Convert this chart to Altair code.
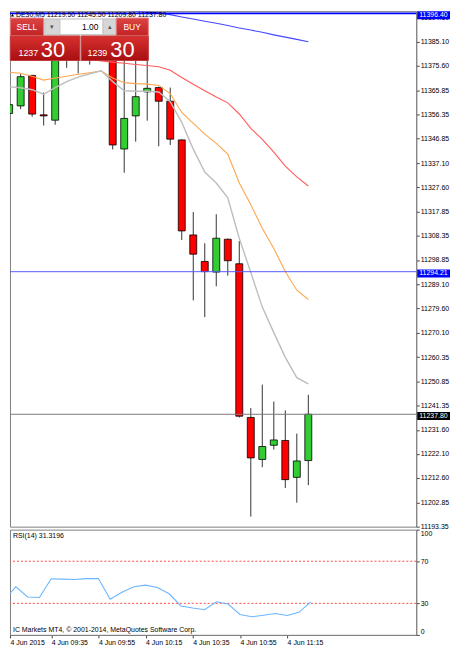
import altair as alt
import pandas as pd

# ---------------- data ----------------
bar_index = list(range(27))
opens = [11356.8, 11359.8, 11371.85, 11356.25, 11354.15, 11382.75, 11380.0, 11378.0, 11381.5,
         11383.0, 11342.75, 11355.85, 11365.35, 11367.05, 11361.65, 11346.35, 11308.75, 11298.25,
         11294.05, 11307.05, 11297.35, 11236.55, 11219.95, 11225.55, 11227.45, 11212.85, 11219.50]
highs = [11361.1, 11372.4, 11372.1, 11365.05, 11384.7, 11386.0, 11385.0, 11388.0, 11390.0,
         11386.0, 11377.65, 11377.55, 11378.0, 11367.4, 11367.05, 11346.55, 11317.85, 11305.45,
         11316.95, 11307.3, 11306.35, 11240.25, 11249.55, 11242.85, 11239.35, 11230.15, 11245.50]
lows = [11350.5, 11358.5, 11355.5, 11352.05, 11352.35, 11374.85, 11372.65, 11376.15, 11379.0,
        11342.55, 11333.35, 11345.65, 11353.95, 11343.85, 11344.35, 11306.75, 11282.85, 11276.25,
        11288.45, 11292.65, 11236.55, 11197.35, 11216.85, 11223.85, 11208.65, 11202.85, 11209.80]
closes = [11360.3, 11371.35, 11356.55, 11355.85, 11382.75, 11380.0, 11378.0, 11381.5, 11383.0,
          11344.35, 11354.85, 11363.45, 11366.75, 11361.65, 11346.65, 11310.35, 11301.15, 11294.25,
          11307.45, 11298.55, 11237.05, 11220.55, 11225.05, 11227.65, 11211.95, 11219.35, 11237.80]

ma_blue = [11401.2, 11400.8, 11400.4, 11400.1, 11399.8, 11399.4, 11399.2, 11398.8, 11398.4,
           11398.0, 11397.6, 11397.3, 11396.9, 11396.6, 11395.9, 11395.0, 11394.2, 11393.3,
           11392.5, 11391.6, 11390.6, 11389.8, 11388.9, 11387.9, 11387.0, 11386.1, 11385.2]
ma_red = [11381.6, 11381.1, 11380.6, 11380.1, 11379.6, 11379.1, 11378.7, 11378.2, 11377.6,
          11377.1, 11376.7, 11376.2, 11375.8, 11375.3, 11373.9, 11371.0, 11368.4, 11365.8,
          11363.3, 11361.0, 11356.6, 11350.9, 11346.6, 11341.5, 11336.0, 11331.7, 11328.1]
ma_orange = [11373.1, 11372.7, 11371.5, 11370.0, 11370.8, 11371.5, 11372.3, 11372.9, 11373.6,
             11370.8, 11369.0, 11368.6, 11368.4, 11367.9, 11364.7, 11357.2, 11352.9, 11348.6,
             11345.0, 11340.7, 11329.3, 11320.7, 11311.4, 11303.4, 11294.3, 11286.9, 11283.2]
ma_gray = [11367.4, 11367.0, 11366.2, 11364.4, 11367.0, 11369.4, 11371.2, 11372.5, 11373.7,
           11369.4, 11365.8, 11365.6, 11365.6, 11365.3, 11361.5, 11353.3, 11342.7, 11333.6,
           11329.3, 11323.4, 11307.4, 11293.9, 11280.2, 11270.1, 11260.3, 11252.3, 11249.8]

rsi14 = [33.0, 45.7, 36.0, 35.5, 53.3, 53.0, 52.7, 53.5, 53.6, 33.9, 40.5, 45.7, 47.3, 45.1,
         39.1, 27.5, 25.5, 23.9, 31.5, 29.4, 19.4, 17.3, 18.7, 20.3, 18.5, 21.5, 31.32]

price_ticks = [11394.60, 11385.10, 11375.60, 11365.85, 11356.35, 11346.85, 11337.10, 11327.60,
               11317.85, 11308.35, 11298.85, 11289.10, 11279.60, 11270.10, 11260.35, 11250.85,
               11241.35, 11231.60, 11222.10, 11212.60, 11202.85, 11193.35]
level_values = [11396.40, 11294.21, 11237.80]

rsi_levels = [30, 70]
rsi_ticks = [0, 30, 70, 100]
time_tick_index = [0, 4, 8, 12, 16, 20, 24]
time_tick_labels = ["4 Jun 2015", "4 Jun 09:35", "4 Jun 09:55", "4 Jun 10:15",
                    "4 Jun 10:35", "4 Jun 10:55", "4 Jun 11:15"]

header_text = "DE30,M5  11219.50 11245.50 11209.80 11237.80"
rsi_title = "RSI(14) 31.3196"
copyright_text = "IC Markets MT4, \u00a9 2001-2014, MetaQuotes Software Corp."
sell_small, sell_big = "1237", "30"
buy_small, buy_big = "1239", "30"
lot_text = "1.00"

# ---------------- styles / layout ----------------
FONT = "Liberation Sans"
W = 409
H_MAIN = 519
H_RSI = 106
X_DOMAIN = [0.505, 34.947]
Y_DOMAIN = [11193.35, 11397.28]

MA_COLORS = {"blue": "#4646ff", "red": "#ff5a5a", "orange": "#ffa64d", "gray": "#bdbdbd"}
MA_WIDTHS = {"blue": 1.1, "red": 1.1, "orange": 1.1, "gray": 1.4}
LEVEL_LINE_COLORS = ["#0000ff", "#5a5aff", "#7a7a7a"]
LEVEL_LINE_WIDTHS = [1.6, 1, 1]
LEVEL_BOX_COLORS = ["#0000ff", "#0000ff", "#000000"]

candles = pd.DataFrame({"i": bar_index, "open": opens, "high": highs, "low": lows, "close": closes})
ma = pd.DataFrame({"i": bar_index, "blue": ma_blue, "red": ma_red, "orange": ma_orange, "gray": ma_gray})
levels = pd.DataFrame({"level": level_values})

xscale = alt.Scale(domain=X_DOMAIN, nice=False, zero=False)
yscale = alt.Scale(domain=Y_DOMAIN, nice=False, zero=False)
yaxis = alt.Axis(orient="right", values=price_ticks, format=".2f", title=None, grid=False,
                 labelFontSize=7, labelFont=FONT, labelColor="#000000", tickSize=3,
                 labelPadding=1, tickColor="#444444", domainColor="#808080", labelOverlap=False)


def X(field):
    return alt.X(field, scale=xscale, axis=None)


def Ym(field):
    return alt.Y(field, scale=yscale, axis=yaxis)


one = pd.DataFrame({"k": [0]})


def px_rect(x0, x1, y0, y1, fill, stroke=None):
    kw = dict(fill=fill)
    if stroke is not None:
        kw.update(stroke=stroke, strokeWidth=1)
    return alt.Chart(one).mark_rect(**kw).encode(
        x=alt.value(x0), x2=alt.value(x1), y=alt.value(y0), y2=alt.value(y1))


def px_text(x, y, txt, size, color, align="left", baseline="middle", weight="normal"):
    return alt.Chart(one).mark_text(text=txt, fontSize=size, color=color, align=align,
                                    baseline=baseline, font=FONT, fontWeight=weight).encode(
        x=alt.value(x), y=alt.value(y))


wicks = alt.Chart(candles).mark_rule(color="#333333", strokeWidth=1, clip=True).encode(
    x=X("i:Q"), y=Ym("low:Q"), y2="high:Q")
bodies = alt.Chart(candles).mark_bar(size=7, stroke="#000000", strokeWidth=0.8, clip=True).encode(
    x=X("i:Q"), y=Ym("open:Q"), y2="close:Q",
    color=alt.condition("datum.close >= datum.open", alt.value("#32cd32"), alt.value("#ff0000")))

ma_layers = [
    alt.Chart(ma).mark_line(color=MA_COLORS[name], strokeWidth=MA_WIDTHS[name], clip=True).encode(
        x=X("i:Q"), y=Ym(f"{name}:Q"))
    for name in ["blue", "red", "orange", "gray"]
]

level_rules = [
    alt.Chart(levels.iloc[[k]]).mark_rule(strokeWidth=LEVEL_LINE_WIDTHS[k],
                                          color=LEVEL_LINE_COLORS[k]).encode(y=Ym("level:Q"))
    for k in range(len(level_values))
]
level_boxes = [
    alt.Chart(levels.iloc[[k]]).mark_tick(size=33, thickness=8, opacity=1, yOffset=1.8,
                                          color=LEVEL_BOX_COLORS[k]).encode(
        x=alt.value(W + 17.5), y=Ym("level:Q"))
    for k in range(len(level_values))
]
level_text = alt.Chart(levels).mark_text(align="left", baseline="middle", fontSize=7, font=FONT,
                                         color="#ffffff", yOffset=1.8).encode(
    x=alt.value(W + 3), y=Ym("level:Q"), text=alt.Text("level:Q", format=".2f"))

grad = alt.LinearGradient(gradient="linear",
                          stops=[alt.GradientStop(color="#d8302f", offset=0),
                                 alt.GradientStop(color="#a80f12", offset=1)],
                          x1=0, x2=0, y1=0, y2=1)
grad_btn = alt.LinearGradient(gradient="linear",
                              stops=[alt.GradientStop(color="#dc4444", offset=0),
                                     alt.GradientStop(color="#c22424", offset=1)],
                              x1=0, x2=0, y1=0, y2=1)

panel = [
    px_rect(0.3, 139.3, 7, 49.7, "#ececec"),
    px_rect(0.3, 33.7, 7, 24.5, grad_btn, "#e88080"),
    px_rect(35.0, 50.3, 8, 23.5, "#d6d6d6", "#c4c4c4"),
    px_rect(50.3, 93.7, 8, 23.5, "#ffffff", "#c8c8c8"),
    px_rect(93.7, 107.0, 8, 23.5, "#d6d6d6", "#c4c4c4"),
    px_rect(107.0, 139.3, 7, 24.5, grad_btn, "#e88080"),
    px_rect(0.3, 70.3, 25, 49.7, grad, "#c23a3a"),
    px_rect(71.7, 139.3, 25, 49.7, grad, "#c23a3a"),
    px_text(17, 16, "SELL", 8.5, "#ffffff", align="center"),
    px_text(123, 16, "BUY", 8.5, "#ffffff", align="center"),
    px_text(42.7, 16, "\u25be", 7, "#555555", align="center"),
    px_text(100.3, 16, "\u25b4", 7, "#555555", align="center"),
    px_text(89, 16, lot_text, 8.5, "#000000", align="right"),
    px_text(8.5, 45, sell_small, 9, "#ffffff", baseline="alphabetic"),
    px_text(31, 46, sell_big, 22, "#ffffff", baseline="alphabetic"),
    px_text(78, 45, buy_small, 9, "#ffffff", baseline="alphabetic"),
    px_text(101, 46, buy_big, 22, "#ffffff", baseline="alphabetic"),
]

header = [
    alt.Chart(one).mark_point(shape="triangle-up", filled=True, size=10, color="#000000", opacity=1).encode(
        x=alt.value(2.5), y=alt.value(4)),
    px_text(6, 4, header_text, 7, "#000000"),
]

main = alt.layer(wicks, bodies, *ma_layers, *level_rules, *header, *panel, *level_boxes,
                 level_text).properties(width=W, height=H_MAIN)

# ---------------- RSI panel ----------------
rsi_df = pd.DataFrame({"i": bar_index, "rsi": rsi14})
rsi_lv = pd.DataFrame({"lvl": rsi_levels})

x_vals = [max(t, X_DOMAIN[0]) for t in time_tick_index]
expr = "''"
for v, lab in reversed(list(zip(x_vals, time_tick_labels))):
    expr = f"abs(datum.value - {v}) < 0.5 ? '{lab}' : " + expr

xaxis = alt.Axis(values=x_vals, labelExpr=expr, labelAlign="left", labelFlush=False, labelPadding=1,
                 tickSize=3, title=None, grid=False, labelFontSize=7, labelFont=FONT,
                 labelColor="#000000", tickColor="#444444", domainColor="#808080", labelOverlap=False)
rscale = alt.Scale(domain=[0, 100], nice=False, zero=False)
raxis = alt.Axis(orient="right", values=rsi_ticks, labelFlush=True, title=None, grid=False,
                 labelFontSize=7, labelFont=FONT, labelColor="#000000", tickSize=3, labelPadding=1,
                 tickColor="#444444", domainColor="#808080")

rsi_line = alt.Chart(rsi_df).mark_line(color="#6cb6ff", strokeWidth=1.1, clip=True).encode(
    x=alt.X("i:Q", scale=xscale, axis=xaxis), y=alt.Y("rsi:Q", scale=rscale, axis=raxis))
rsi_rules = alt.Chart(rsi_lv).mark_rule(color="#ff4a4a", strokeDash=[2, 2], strokeWidth=1).encode(
    y=alt.Y("lvl:Q", scale=rscale, axis=raxis))

rsi = alt.layer(rsi_rules, rsi_line,
                px_text(3, 6, rsi_title, 7, "#000000"),
                px_text(3, 101, copyright_text, 7, "#000000")).properties(width=W, height=H_RSI)

chart = alt.vconcat(main, rsi, spacing=3, bounds="flush").properties(
    padding={"left": 0, "top": 0, "right": 0, "bottom": 0}, background="#ffffff"
).configure_view(stroke="#808080", strokeWidth=1)

chart.save("out.html", embed_options={"renderer": "svg", "actions": False})
